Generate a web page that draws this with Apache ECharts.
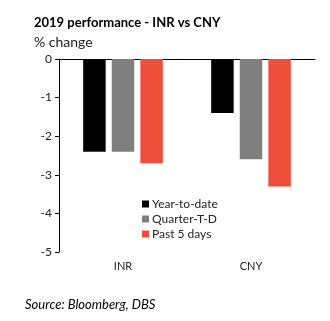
<!DOCTYPE html>
<html>
<head>
<meta charset="utf-8">
<script src="https://cdn.jsdelivr.net/npm/echarts@6/dist/echarts.min.js"></script>
<style>
html,body{margin:0;padding:0;background:#fff;}
#c{width:330px;height:321px;}
</style>
</head>
<body>
<div id="c"></div>
<script>
var categories = ['INR', 'CNY'];
var seriesNames = ['Year-to-date', 'Quarter-T-D', 'Past 5 days'];
var ytd = [-2.4, -1.4];
var qtd = [-2.4, -2.6];
var past5 = [-2.7, -3.3];
var yTicks = [0, -1, -2, -3, -4, -5];

var chart = echarts.init(document.getElementById('c'));
var font = 'Lato, "Open Sans", sans-serif';
var colors = ['#000000', '#7f7f7f', '#ee4f3a'];
var values = [ytd, qtd, past5];

chart.setOption({
  animation: false,
  backgroundColor: '#ffffff',
  title: [
    { text: '2019 performance - INR vs CNY', left: 34, top: 16, padding: 0,
      textStyle: { fontFamily: font, fontSize: 13, fontWeight: 'bold', color: '#000' } },
    { text: '% change', left: 34, top: 35, padding: 0,
      textStyle: { fontFamily: font, fontSize: 14, fontWeight: 'normal', color: '#222' } },
    { text: 'Source: Bloomberg, DBS', left: 25, top: 298, padding: 0,
      textStyle: { fontFamily: font, fontSize: 13, fontStyle: 'italic', fontWeight: 'normal', color: '#000' } }
  ],
  legend: {
    orient: 'vertical', left: 137, top: 193,
    itemWidth: 7, itemHeight: 7, itemGap: 3, icon: 'rect',
    data: seriesNames,
    textStyle: { fontFamily: font, fontSize: 12, color: '#222', padding: [0, 0, 0, -2] }
  },
  grid: { left: 59, top: 59, right: 15, bottom: 69, containLabel: false },
  xAxis: [
    { type: 'category', data: categories, position: 'bottom',
      axisLine: { show: false }, axisTick: { show: false },
      axisLabel: { margin: 9, fontFamily: font, fontSize: 11, color: '#222' } },
    { type: 'category', data: categories, position: 'top',
      axisLine: { show: true, lineStyle: { color: '#000', width: 1 } },
      axisTick: { show: false }, axisLabel: { show: false } }
  ],
  yAxis: {
    type: 'value', min: yTicks[yTicks.length - 1], max: yTicks[0], interval: 1,
    axisLine: { show: true, lineStyle: { color: '#000', width: 1 } },
    axisTick: { show: true, length: 4, lineStyle: { color: '#000' } },
    splitLine: { show: false },
    axisLabel: { margin: 7, fontFamily: font, fontSize: 12, color: '#222' }
  },
  series: seriesNames.map(function (n, i) {
    return {
      name: n, type: 'bar', xAxisIndex: 0, data: values[i],
      barWidth: 22.5, barGap: '27%',
      itemStyle: { color: colors[i] }
    };
  })
});
</script>
</body>
</html>
